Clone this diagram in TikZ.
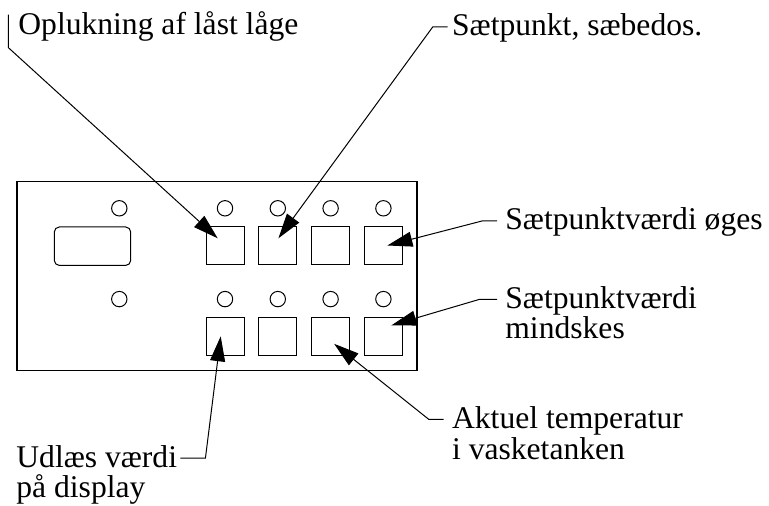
\documentclass[tikz,border=0pt]{standalone}
\usepackage{fontspec}
\setmainfont{Liberation Serif}
\usetikzlibrary{positioning, arrows.meta}

\begin{document}
\begin{tikzpicture}[node distance=26.4pt, x=0.5pt, y=-0.5pt,
  key/.style={draw, line width=0.5pt, minimum size=19pt, inner sep=0pt},
  lamp/.style={draw, circle, line width=0.5pt, minimum size=7.7pt, inner sep=0pt},
  lbl/.style={font=\fontsize{15.8}{19}\selectfont, inner sep=0pt, text height=10pt, text depth=1pt, anchor=base west},
  lead/.style={-{Triangle[length=12.5pt, width=7.5pt]}, line width=0.5pt}]
\useasboundingbox (0,0) rectangle (769,506);
\draw[line width=0.8pt] (16.7,181.7) rectangle (417,370.7);
\node (disp) [draw, rounded corners=2.5pt, line width=0.5pt, minimum width=38.2pt, minimum height=19.2pt] at (92.5,246.2) {};
% keys
\node (k1) [key] at (225,245.5) {};
\node (k2) [key, right of=k1] {};
\node (k3) [key, right of=k2] {};
\node (k4) [key, right of=k3] {};
\node (k5) [key, node distance=45.4pt, below of=k1] {};
\node (k6) [key, right of=k5] {};
\node (k7) [key, right of=k6] {};
\node (k8) [key, right of=k7] {};
% lamps
\node (l1) [lamp, node distance=18.6pt, above of=k1] {};
\node (l2) [lamp, node distance=18.6pt, above of=k2] {};
\node (l3) [lamp, node distance=18.6pt, above of=k3] {};
\node (l4) [lamp, node distance=18.6pt, above of=k4] {};
\node (l5) [lamp, node distance=18.6pt, above of=k5] {};
\node (l6) [lamp, node distance=18.6pt, above of=k6] {};
\node (l7) [lamp, node distance=18.6pt, above of=k7] {};
\node (l8) [lamp, node distance=18.6pt, above of=k8] {};
\node (l0) [lamp, node distance=52.85pt, left of=l1] {};
\node (l9) [lamp, node distance=52.85pt, left of=l5] {};
% labels
\node (oplk) [lbl] at (18,35) {Oplukning af låst låge};
\node (saebe) [lbl] at (451.7,36) {Sætpunkt, sæbedos.};
\node (oeges) [lbl] at (505,230) {Sætpunktværdi øges};
\node (mind) [lbl] at (505,308.5) {Sætpunktværdi};
\node (mind2) [lbl] at (505,339) {mindskes};
\node (aktuel) [lbl] at (451.7,428.3) {Aktuel temperatur};
\node (aktuel2) [lbl] at (451.7,459) {i vasketanken};
\node (udlaes) [lbl] at (16,467) {Udlæs værdi};
\node (udlaes2) [lbl] at (16,497) {på display};
% leaders
\draw[lead] ([xshift=-4.85pt]oplk.north west) -- ++(0,33) -- ([shift={(-7.3,-7.2)}]k1.center);
\draw[lead] ([xshift=-2pt]saebe.west) -- ++(-15,0) -- ([shift={(0.6,-7.2)}]k2.center);
\draw[lead] ([xshift=-4pt]oeges.west) -- ++(-15,0) -- ([shift={(4,0)}]k4.center);
\draw[lead] ([xshift=-4pt]mind.west) -- ++(-18,0) -- ([shift={(8,-11)}]k8.center);
\draw[lead] ([xshift=-4pt]aktuel.west) -- ++(-15,0) -- ([shift={(3.5,7.5)}]k7.center);
\draw[lead] ([xshift=1.5pt]udlaes.east) -- ++(25,0) -- ([shift={(-4.3,0)}]k5.center);
\end{tikzpicture}
\end{document}
